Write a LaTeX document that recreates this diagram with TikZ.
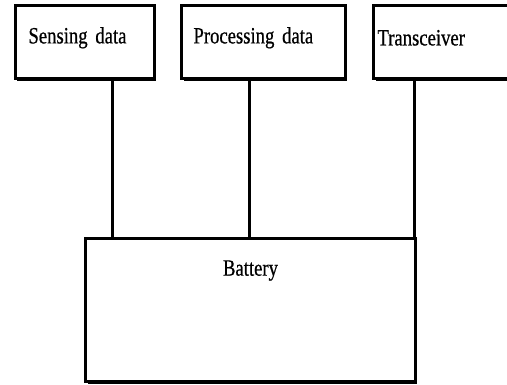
\documentclass[tikz,border=0pt]{standalone}
\usepackage{fontspec}
\setmainfont{Liberation Serif}[FakeStretch=0.8, FakeBold=0.6]
\usetikzlibrary{shadows}

\tikzset{
  unit/.style={draw, line width=1.8pt, fill=white, anchor=north west,
    minimum height=43.8pt, align=left, font=\fontsize{14}{16}\selectfont,
    drop shadow={shadow xshift=1.2pt, shadow yshift=-1.2pt, fill=black, opacity=1}},
  lifted/.style={execute at end node={\par\kern5pt}},
  wire/.style={line width=1.8pt}
}

\begin{document}
\begin{tikzpicture}[x=0.6pt, y=-0.6pt]

\useasboundingbox (0,0) rectangle (507,385);
\clip (0,0) rectangle (507,385);

% Upper boxes
\node[unit, lifted, inner xsep=7.8pt, text width=67.8pt] (sense) at (14,4) {Sensing data};
\node[unit, lifted, inner xsep=7.2pt, text width=84pt] (proc) at (180,4) {Processing data};
\node[unit, lifted, inner xsep=2.4pt, text width=85.2pt] (trx) at (372,4) {Transceiver};

% Battery box
\node[unit, minimum width=198pt, minimum height=85.8pt,
  label={[anchor=north, yshift=-10.5pt, font=\fontsize{14}{16}\selectfont]north:Battery}] (battery) at (84,237) {};

% Supply lines
\draw[wire] (sense.south -| 112,0) -- (battery.north -| 112,0);
\draw[wire] (proc.south -| 249,0) -- (battery.north -| 249,0);
\draw[wire] (trx.south -| 414,0) -- (battery.north -| 414,0);

\end{tikzpicture}
\end{document}
